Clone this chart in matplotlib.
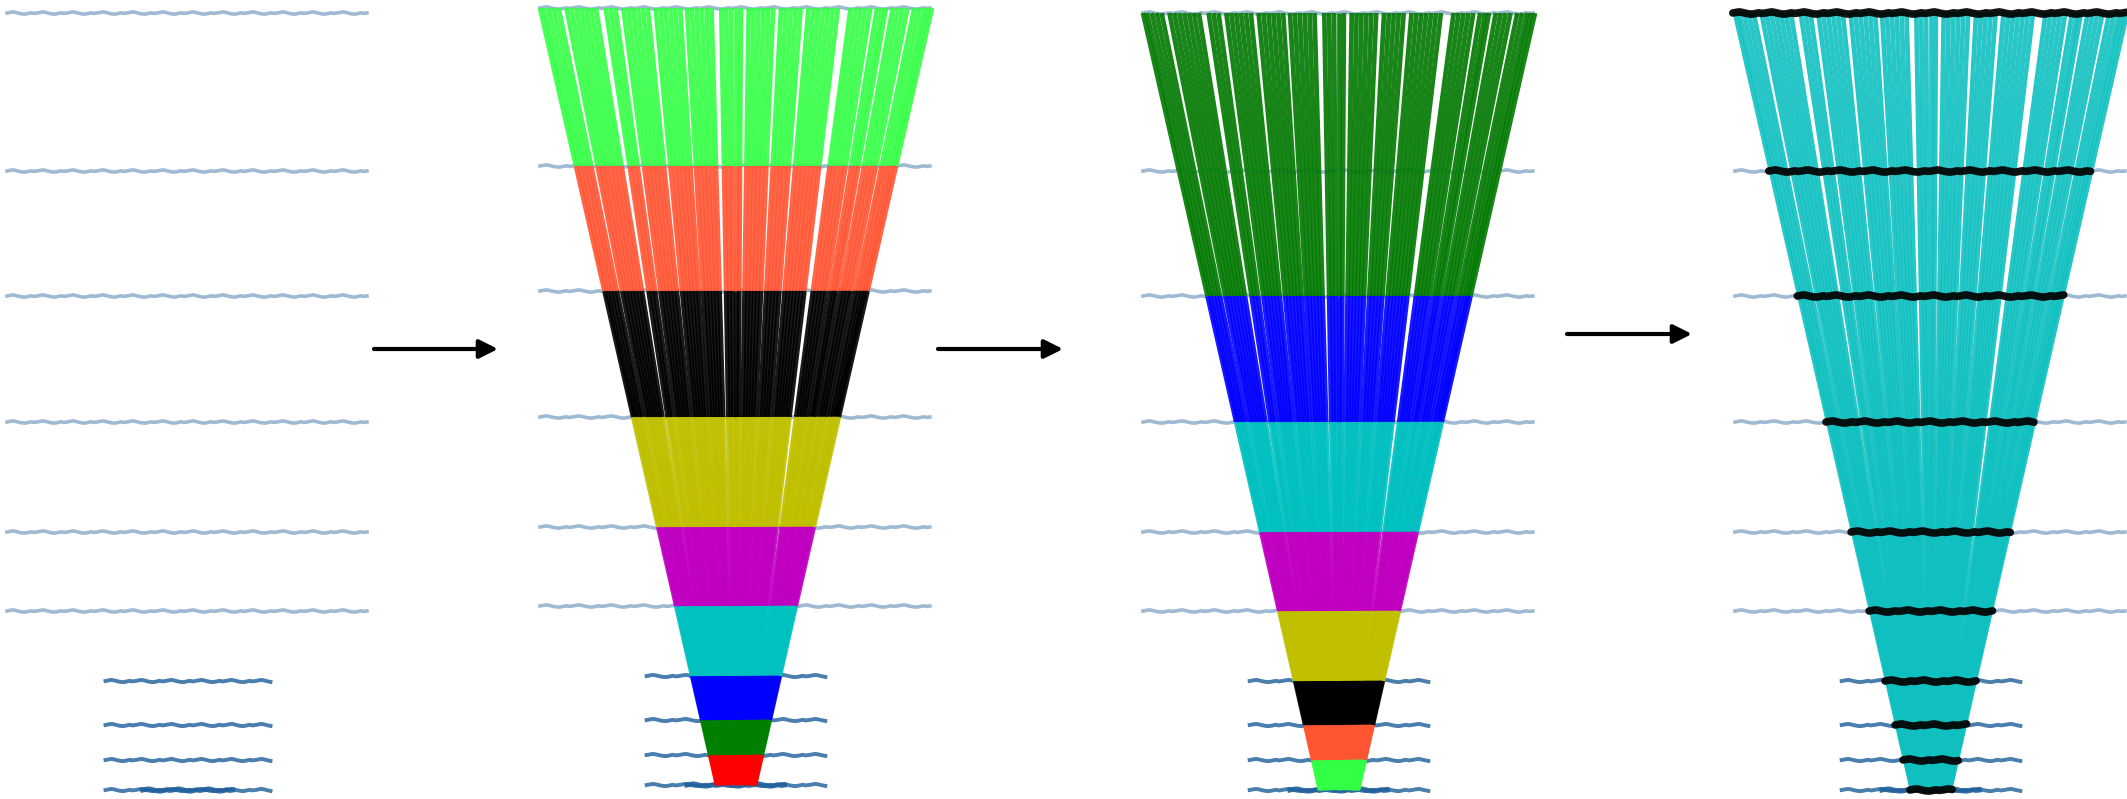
import numpy as np
import matplotlib
matplotlib.use("Agg")
import matplotlib.pyplot as plt

# detector layers (y, top to bottom) and their half-lengths
layer_y = [13, 171, 296, 422, 532, 611, 681, 725, 760, 790]
layer_half = [181, 181, 181, 181, 181, 181, 82.5, 82.5, 82.5, 82.5]
# small ripple of the hits along a layer
wiggle = [0.0, -0.6, -1.1, -0.5, 0.3, 0.9, 1.1, 0.5, -0.2, 0.4]

# fan of tracks: half width at the bottom layer and at the top layer
fan_bottom = 17.5
fan_top = 181.0
# relative track positions across the fan (-1 .. 1)
track_u = [-1.00, -0.98, -0.955, -0.93, -0.905, -0.865, -0.84, -0.815, -0.79, -0.765,
           -0.74, -0.715, -0.665, -0.64, -0.615, -0.575, -0.55, -0.525, -0.50, -0.475,
           -0.45, -0.41, -0.385, -0.36, -0.335, -0.31, -0.285, -0.25, -0.225, -0.20,
           -0.175, -0.15, -0.125, -0.075, -0.05, -0.025, 0.0, 0.025, 0.065, 0.09,
           0.115, 0.14, 0.165, 0.19, 0.23, 0.255, 0.28, 0.305, 0.33, 0.37,
           0.395, 0.42, 0.445, 0.47, 0.495, 0.52, 0.585, 0.61, 0.635, 0.66,
           0.685, 0.72, 0.745, 0.765, 0.80, 0.825, 0.85, 0.875, 0.91, 0.935,
           0.96, 0.98, 1.00]

# segment colours (one per gap between consecutive layers, top to bottom)
seg_colors_2 = ["#33ff44", "#ff5533", "k", "#c0c000", "#c000c0", "#00c0c0", "b", "g", "r"]
seg_colors_3 = ["#007800", "#007800", "b", "#00c0c0", "#c000c0", "#c0c000", "k", "#ff5533", "#33ff44"]
seg_colors_4 = ["#10c0c0"] * 9

# panel layout in pixels
panel_cx = [188, 736, 1339, 1931]
panel_scale = [1.0, 1.083, 1.083, 1.083]
panel_dy = [0, -5, 0, 0]
arrow_x0 = [374, 938, 1567]
arrow_x1 = [498, 1063, 1692]
arrow_y = [349, 349, 334]

W_PX, H_PX = 2127, 799
fig = plt.figure(figsize=(W_PX / 100, H_PX / 100), dpi=100)
fig.patch.set_facecolor("white")

W = 230


def fan_half(y):
    return fan_bottom + (layer_y[-1] - y) / (layer_y[-1] - layer_y[0]) * (fan_top - fan_bottom)


def layer_points(i, lo, hi):
    xs = np.arange(lo, hi + 0.1, 3.0)
    ys = np.array([layer_y[i] + wiggle[k % len(wiggle)] for k in range(len(xs))])
    return xs, ys


def draw_layers(ax):
    for i in range(len(layer_y)):
        h = layer_half[i]
        xs, ys = layer_points(i, -h, h)
        if h > 100:
            ax.plot(xs, ys, color="#3f77a8", alpha=0.5, lw=2.6, zorder=1)
        else:
            ax.plot(xs, ys, color="#2a67a0", alpha=0.85, lw=2.8, zorder=1)
    # the innermost layer is denser in its middle
    xs, ys = layer_points(len(layer_y) - 1, -0.55 * layer_half[-1], 0.55 * layer_half[-1])
    ax.plot(xs, ys, color="#1f5f9a", lw=3.6, alpha=0.9, zorder=1)


def draw_tracks(ax, colors, alpha):
    for u in track_u:
        for j in range(len(layer_y) - 1):
            y0, y1 = layer_y[j], layer_y[j + 1]
            ax.plot([u * fan_half(y0), u * fan_half(y1)], [y0, y1],
                    color=colors[j], lw=3.4, alpha=alpha,
                    solid_capstyle="butt", zorder=2)


axes = []
for p in range(4):
    left = panel_cx[p] - panel_scale[p] * W
    width = 2 * panel_scale[p] * W
    ax = fig.add_axes([left / W_PX, 0, width / W_PX, 1])
    ax.set_xlim(-W, W)
    ax.set_ylim(H_PX - panel_dy[p], -panel_dy[p])
    ax.axis("off")
    ax.patch.set_alpha(0)
    axes.append(ax)

draw_layers(axes[0])
for p, cols in zip([1, 2, 3], [seg_colors_2, seg_colors_3, seg_colors_4]):
    draw_layers(axes[p])
    draw_tracks(axes[p], cols, 0.9)

# hits assigned to tracks in the last panel
for i in range(len(layer_y)):
    h = min(fan_half(layer_y[i]) + 2, layer_half[i] + 30)
    xs, ys = layer_points(i, -h, h)
    axes[3].plot(xs, ys, color="k", lw=5.5, alpha=0.92, zorder=3,
                 solid_capstyle="round")

# arrows between panels
over = fig.add_axes([0, 0, 1, 1])
over.set_xlim(0, W_PX)
over.set_ylim(H_PX, 0)
over.axis("off")
over.patch.set_alpha(0)
for x0, x1, y in zip(arrow_x0, arrow_x1, arrow_y):
    over.annotate("", xy=(x1, y), xytext=(x0, y),
                  arrowprops=dict(arrowstyle="-|>", lw=3, color="k",
                                  mutation_scale=28, shrinkA=0, shrinkB=0))

fig.savefig("out.png", dpi=100, facecolor="white")
